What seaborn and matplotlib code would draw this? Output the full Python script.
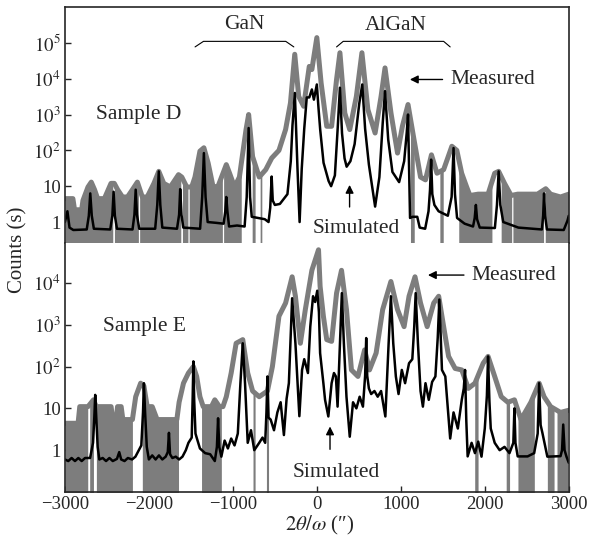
import numpy as np
import matplotlib
matplotlib.use('Agg')
import matplotlib.pyplot as plt
from matplotlib.ticker import NullLocator
import seaborn as sns

# ---- Sample D (upper panel) ----
meas_d_x = [-3000, -2905, -2885, -2800, -2785, -2725, -2686, -2647, -2610, -2530, -2451, -2412,
            -2372, -2314, -2255, -2196, -2137, -2078, -2020, -1940, -1882, -1823, -1745, -1647,
            -1608, -1549, -1490, -1451, -1392, -1345, -1294, -1235, -1176, -1078, -1039, -980,
            -922, -843, -812, -765, -686, -608, -537, -451, -372, -314, -263, -216, -157, -90,
            -59, 0, 51, 118, 176, 235, 275, 333, 392, 471, 537, 608, 694, 765, 812, 883, 961,
            1019, 1086, 1157, 1235, 1294, 1365, 1431, 1510, 1608, 1667, 1725, 1784, 1823, 1921,
            2039, 2118, 2165, 2235, 2314, 2392, 2510, 2627, 2726, 2784, 2902, 3000]
meas_d_y = [4.5, 4.5, 2.2, 2.2, 4, 9.5, 13, 8, 4.5, 4.5, 12, 12,
            8, 5, 5, 8, 13, 5, 5, 12, 26, 12, 9.5, 21,
            18, 9.5, 9.5, 18, 95, 118, 44, 9.5, 10, 40, 23, 9.5,
            18, 380, 1000, 67, 18, 29, 61, 100, 380, 2100, 48000, 3200, 1700, 22000,
            18000, 140000, 7600, 470, 470, 9500, 53000, 1100, 380, 3200, 53000, 1370, 305, 3200, 20000, 1100, 84,
            470, 1900, 200, 18, 15, 75, 23, 29, 130, 100, 23, 9.5, 5.5, 6,
            6, 23, 26, 12, 5.5, 6, 6, 6, 8.5, 6, 5, 6]
meas_d_spans = [(-3000, -2430), (-2410, -2125), (-2110, -1620), (-1600, -1535), (-1520, -1125),
                (-1110, -900), (-770, -735), (-675, -655), (1115, 1160), (1465, 1505),
                (1690, 2085), (2195, 2320), (2335, 2700), (2720, 3000)]

sim_d_x = [-3000, -2970, -2945, -2900, -2740, -2715, -2698, -2680, -2655, -2460, -2435, -2420,
           -2405, -2380, -2195, -2172, -2157, -2142, -2115, -1925, -1900, -1882, -1864, -1840,
           -1665, -1640, -1627, -1612, -1590, -1390, -1365, -1345, -1325, -1300, -1200, -1110,
           -1090, -1078, -1065, -1045, -950, -860, -835, -812, -795, -775, -700, -620, -575,
           -555, -538, -525, -500, -440, -350, -310, -290, -262, -245, -230, -205, -180, -150,
           -120, -90, -59, -35, 0, 20, 40, 80, 140, 170, 215, 248, 275, 300, 330, 355, 400,
           450, 505, 541, 575, 620, 694, 745, 785, 812, 850, 900, 980, 1040, 1070, 1086, 1100,
           1110, 1140, 1196, 1225, 1290, 1330, 1348, 1361, 1375, 1400, 1450, 1560, 1605, 1628,
           1645, 1670, 1760, 1860, 1880, 1894, 1908, 1940, 2120, 2145, 2165, 2185, 2220, 2400,
           2680, 2695, 2706, 2718, 2740, 2940, 2985, 3000]
sim_d_y = [1.0, 2.0, 0.7, 0.6, 0.62, 1.5, 6.3, 1.5, 0.65, 0.62, 1.5, 7,
           1.5, 0.65, 0.62, 1.6, 8, 1.6, 0.65, 0.65, 3, 26, 3, 0.7,
           0.65, 1.6, 8.3, 1.6, 0.7, 0.65, 5, 84, 5, 1.0, 0.95, 0.9,
           2, 5, 2, 0.75, 0.8, 0.75, 5, 420, 5, 1.4, 1.3, 1.2, 1.0,
           2.5, 18.6, 4, 3.0, 3.2, 6, 50, 500, 4000, 300, 30, 1.0, 30, 400,
           3000, 3000, 5000, 2600, 6900, 1500, 380, 45, 14, 10, 20, 400, 5600, 300, 60, 35, 50,
           150, 2000, 6900, 400, 40, 2.7, 18, 600, 4500, 200, 25, 13, 50, 300, 1000, 20,
           1.3, 1.4, 1.4, 0.7, 0.65, 2, 8, 55, 6, 3, 2, 1.5, 5, 116,
           6, 1.3, 0.9, 0.75, 1.3, 3, 1.2, 0.7, 0.68, 3, 26, 3, 1.0, 0.7,
           0.62, 1.5, 6.3, 1.5, 0.62, 0.6, 1.1, 1.5]

# ---- Sample E (lower panel) ----
meas_e_x = [-3000, -2843, -2823, -2725, -2660, -2627, -2450, -2431, -2390, -2373, -2330, -2310,
            -2196, -2157, -2098, -2059, -2020, -1960, -1902, -1667, -1640, -1588, -1529, -1470,
            -1431, -1392, -1353, -1255, -1215, -1160, -1118, -1078, -1020, -961, -882, -823,
            -765, -686, -588, -529, -451, -372, -294, -255, -196, -137, -59, 20, 39, 78, 118,
            176, 235, 294, 353, 412, 490, 569, 627, 706, 784, 882, 961, 1039, 1098, 1169, 1235,
            1314, 1392, 1451, 1510, 1569, 1647, 1726, 1804, 1883, 1981, 2039, 2118, 2196, 2275,
            2353, 2431, 2549, 2647, 2706, 2784, 2902, 3000]
meas_e_y = [4.4, 4.4, 11, 11, 16, 11, 11, 5.4, 5.4, 11, 11, 5.4,
            5.4, 19, 40, 34, 11, 11, 5.4, 5.4, 14, 40, 70, 100,
            58, 19, 11, 11, 16, 11, 11, 19, 70, 360, 440, 70,
            26, 19, 26, 100, 1600, 3300, 14000, 4800, 360, 2300, 20000, 62000, 8300, 1600, 440,
            400, 5700, 20000, 2300, 83, 58, 250, 83, 210, 2300, 10800, 2300, 900, 4800, 14000, 3300,
            900, 3300, 4800, 900, 175, 90, 83, 30, 40, 120, 175, 58, 19, 14,
            16, 5.4, 14, 40, 19, 11, 8, 9]
meas_e_spans = [(-3000, -2728), (-2705, -2660), (-2625, -2196), (-2078, -1647), (-1373, -1137),
                (-760, -735), (-600, -575), (1880, 1920), (2255, 2295), (2395, 2590),
                (2745, 2825), (2860, 2985)]

sim_e_x = [-3000, -2960, -2920, -2880, -2840, -2800, -2760, -2700, -2665, -2650, -2639, -2625,
           -2610, -2590, -2550, -2510, -2470, -2430, -2380, -2353, -2330, -2290, -2250, -2200,
           -2160, -2090, -2070, -2059, -2045, -2025, -2000, -1960, -1920, -1880, -1840, -1800,
           -1775, -1761, -1748, -1720, -1680, -1640, -1600, -1560, -1529, -1490, -1478, -1470,
           -1460, -1445, -1431, -1392, -1330, -1270, -1215, -1190, -1176, -1162, -1137, -1098,
           -1059, -1020, -980, -941, -910, -882, -855, -823, -784, -745, -686, -647, -615, -600,
           -588, -575, -550, -510, -470, -431, -392, -360, -333, -294, -255, -208, -176, -150,
           -106, -78, -45, -20, 5, 25, 39, 78, 98, 137, 176, 204, 227, 247, 275, 298, 322, 353,
           392, 431, 471, 510, 549, 575, 588, 600, 620, 647, 686, 725, 765, 816, 855, 882, 910,
           941, 973, 1012, 1051, 1098, 1137, 1160, 1177, 1204, 1235, 1263, 1294, 1333, 1373,
           1412, 1440, 1459, 1490, 1530, 1588, 1628, 1679, 1726, 1750, 1765, 1780, 1796, 1843,
           1883, 1922, 1961, 2000, 2025, 2039, 2055, 2071, 2118, 2177, 2235, 2294, 2340, 2353,
           2365, 2392, 2510, 2588, 2630, 2647, 2665, 2686, 2745, 2902, 2920, 2934, 2950, 2973, 3000]
sim_e_y = [0.6, 0.55, 0.65, 0.55, 0.65, 0.55, 0.65, 0.65, 1.5, 6, 21, 5,
           1.2, 0.6, 0.65, 0.55, 0.65, 0.55, 0.62, 0.9, 0.6, 0.55, 0.65, 0.6,
           0.7, 1.3, 8, 40, 8, 1.2, 0.6, 0.75, 0.6, 0.75, 0.6, 0.7,
           0.9, 2.6, 0.8, 0.65, 0.7, 0.6, 0.7, 1.0, 1.5, 2.0, 20, 133,
           15, 2.5, 2.0, 1.1, 0.85, 0.8, 0.55, 1.2, 5.8, 1.2, 0.7, 1.7,
           1.1, 1.9, 1.3, 2.5, 40, 360, 40, 1.5, 3.0, 1.0, 1.5, 2.0, 1.5, 8,
           58, 6, 5.4, 3, 8, 14, 2.3, 17, 40, 4300, 360, 6.5, 83, 150,
           70, 900, 4800, 3500, 6500, 2000, 210, 40, 16, 6.4, 40, 70, 58, 11, 360, 5700, 360, 19,
           2.1, 14, 10, 19, 11, 60, 480, 60, 30, 22, 26, 19, 26, 6.4, 360, 4800, 360,
           58, 22, 83, 40, 120, 150, 900, 5700, 360, 26, 11, 40, 16, 43,
           58, 500, 4000, 83, 58, 1.9, 8, 3.3, 16, 30, 83, 5, 0.71, 1.5,
           0.85, 1.6, 0.7, 3.3, 20, 175, 15, 3.3, 1.5, 1.0, 1.2, 0.85, 1.5, 10,
           1.5, 0.71, 0.71, 0.85, 2.5, 40, 4, 2.6, 0.7, 0.72, 1.0, 4.1, 1.0, 0.7, 0.5]

xticks = [-3000, -2000, -1000, 0, 1000, 2000, 3000]
yticks_d = [1, 10, 1e2, 1e3, 1e4, 1e5]
ylabels_d = ['1', '10', '$10^2$', '$10^3$', '$10^4$', '$10^5$']
yticks_e = [1, 10, 1e2, 1e3, 1e4]
ylabels_e = ['1', '10', '$10^2$', '$10^3$', '$10^4$']

GRAY = '#7d7d7d'

sns.set_style('ticks')
plt.rcParams['font.family'] = ['Liberation Serif', 'DejaVu Serif']
plt.rcParams['mathtext.fontset'] = 'stix'

fig, (ax1, ax2) = plt.subplots(2, 1, figsize=(5.9, 5.39), dpi=100, sharex=True,
                               gridspec_kw=dict(height_ratios=[236, 249], hspace=0))
fig.subplots_adjust(left=0.110, right=0.964, top=0.987, bottom=0.0872)


def band(ax, env_x, env_y, spans, floor):
    # noisy low-count stretches: the measured trace keeps dropping to zero there
    lx = np.array(env_x, dtype=float)
    ly = np.log10(env_y)
    for a, b in spans:
        xs = np.concatenate([[a], lx[(lx > a) & (lx < b)], [b]])
        ys = 10 ** np.interp(xs, lx, ly)
        ax.fill_between(xs, floor, ys, color=GRAY, lw=0)


band(ax1, meas_d_x, meas_d_y, meas_d_spans, 0.01)
band(ax2, meas_e_x, meas_e_y, meas_e_spans, 0.01)

for ax, mx, my, sx, sy in [(ax1, meas_d_x, meas_d_y, sim_d_x, sim_d_y),
                           (ax2, meas_e_x, meas_e_y, sim_e_x, sim_e_y)]:
    sns.lineplot(x=mx, y=my, ax=ax, color=GRAY, lw=3.6, estimator=None, sort=False)
    sns.lineplot(x=sx, y=sy, ax=ax, color='black', lw=1.8, estimator=None, sort=False)
    ax.set_yscale('log')
    ax.set_xlim(-3000, 3000)
    ax.yaxis.set_minor_locator(NullLocator())
    ax.xaxis.set_minor_locator(NullLocator())
    ax.tick_params(direction='in', length=4, width=1, labelsize=13.5, pad=3,
                   top=False, right=False)
    for s in ax.spines.values():
        s.set_linewidth(1.2)
    ax.set_xlabel('')
    ax.set_ylabel('')

ax1.set_ylim(0.26, 1e6)
ax2.set_ylim(0.1, 9e4)
ax1.set_yticks(yticks_d, ylabels_d)
ax2.set_yticks(yticks_e, ylabels_e)
ax2.set_xticks(xticks)
ax1.tick_params(axis='x', bottom=False, labelbottom=False)
ax1.spines['bottom'].set_visible(False)
ax2.spines['top'].set_visible(False)

fs = 15.5
# upper panel labels
ax1.text(-2635, 1000, 'Sample D', fontsize=fs, va='center')
ax1.text(-860, 3.3e5, 'GaN', fontsize=fs, ha='center', va='center')
ax1.plot([-1450, -1350, -370, -274], [7.7e4, 1.1e5, 1.1e5, 7.7e4], color='k', lw=0.8)
ax1.text(941, 3.0e5, 'AlGaN', fontsize=fs, ha='center', va='center')
ax1.plot([235, 314, 1510, 1588], [7.7e4, 1.1e5, 1.1e5, 7.7e4], color='k', lw=0.8)
ax1.text(1588, 9500, 'Measured', fontsize=fs, va='center')
ax1.annotate('', xy=(1075, 9500), xytext=(1530, 9500),
             arrowprops=dict(arrowstyle='-|>', color='k', lw=1, mutation_scale=12))
ax1.text(470, 0.66, 'Simulated', fontsize=fs, ha='center', va='center')
ax1.annotate('', xy=(390, 13), xytext=(390, 2.2),
             arrowprops=dict(arrowstyle='-|>', color='k', lw=1, mutation_scale=12))

# lower panel labels
ax2.text(-2549, 890, 'Sample E', fontsize=fs, va='center')
ax2.text(1843, 15400, 'Measured', fontsize=fs, va='center')
ax2.annotate('', xy=(1290, 15400), xytext=(1785, 15400),
             arrowprops=dict(arrowstyle='-|>', color='k', lw=1, mutation_scale=12))
ax2.text(235, 0.30, 'Simulated', fontsize=fs, ha='center', va='center')
ax2.annotate('', xy=(157, 4.3), xytext=(157, 0.9),
             arrowprops=dict(arrowstyle='-|>', color='k', lw=1, mutation_scale=12))

fig.text(0.03, 0.536, 'Counts (s)', rotation=90, fontsize=15, ha='center', va='center')
fig.text(0.542, 0.026, '$2\\theta/\\omega$ (″)', fontsize=15, ha='center', va='center')

fig.savefig('out.png', dpi=100)
